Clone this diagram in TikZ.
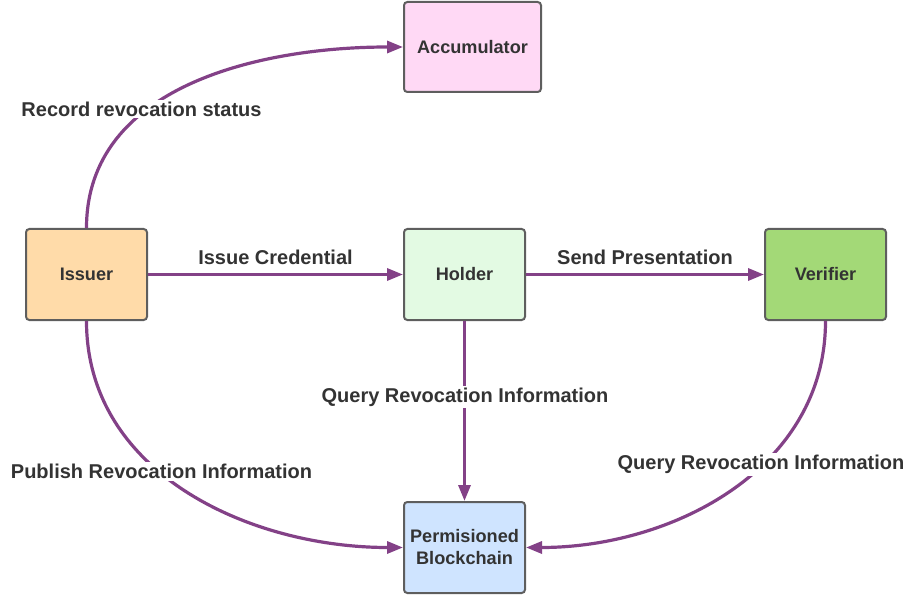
\documentclass[tikz,border=0pt]{standalone}
\usepackage{fontspec}
\setmainfont{Liberation Sans}
\usetikzlibrary{arrows.meta}
\definecolor{edgecol}{HTML}{834187}
\definecolor{boxline}{HTML}{5E5E5E}
\definecolor{txt}{HTML}{333333}
\definecolor{accfill}{HTML}{FFD9F5}
\definecolor{issfill}{HTML}{FFDBA9}
\definecolor{holfill}{HTML}{E3FAE3}
\definecolor{verfill}{HTML}{A3D977}
\definecolor{bcfill}{HTML}{CFE4FF}
\begin{document}
\begin{tikzpicture}[x=0.75pt,y=-0.75pt,
  entity/.style={draw=boxline,line width=1.5pt,rounded corners=2.5pt,
    minimum width=90.75pt,minimum height=68.25pt,align=center,inner sep=2pt,
    text=txt,font=\fontsize{13.6}{16.5}\selectfont\bfseries},
  flow/.style={draw=edgecol,line width=2.4pt,
    -{Triangle[length=12pt,width=9pt]}},
  lbl/.style={fill=white,text=txt,inner sep=1.5pt,
    font=\fontsize{15}{17}\selectfont\bfseries}]
\useasboundingbox (0,0) rectangle (907,599);

% participants
\node[entity,fill=accfill,minimum width=102.75pt,minimum height=67.5pt] (acc) at (472.5,47) {Accumulator};
\node[entity,fill=issfill] (iss) at (86.5,274.5) {Issuer};
\node[entity,fill=holfill] (hol) at (464.5,274.5) {Holder};
\node[entity,fill=verfill] (ver) at (825.5,274.5) {Verifier};
\node[entity,fill=bcfill] (bc) at (464.5,547.5) {Permisioned\\Blockchain};

% flows between participants
\draw[flow] (iss.north) to[out=90,in=180] (acc.west);
\draw[flow] (iss.east) -- (hol.west);
\draw[flow] (hol.east) -- (ver.west);
\draw[flow] (hol.south) -- (bc.north);
\draw[flow] (iss.south) to[out=-90,in=180] (bc.west);
\draw[flow] (ver.south) to[out=-90,in=0] (bc.east);

% flow labels
\node[lbl] (l1) at (141.5,109) {Record revocation status};
\node[lbl] (l2) at (275.5,257) {Issue Credential};
\node[lbl] (l3) at (645,257) {Send Presentation};
\node[lbl] (l4) at (465,397) {Query Revocation Information};
\node[lbl] (l5) at (161.5,471.5) {Publish Revocation Information};
\node[lbl] (l6) at (761,464.5) {Query Revocation Information};
\end{tikzpicture}
\end{document}
